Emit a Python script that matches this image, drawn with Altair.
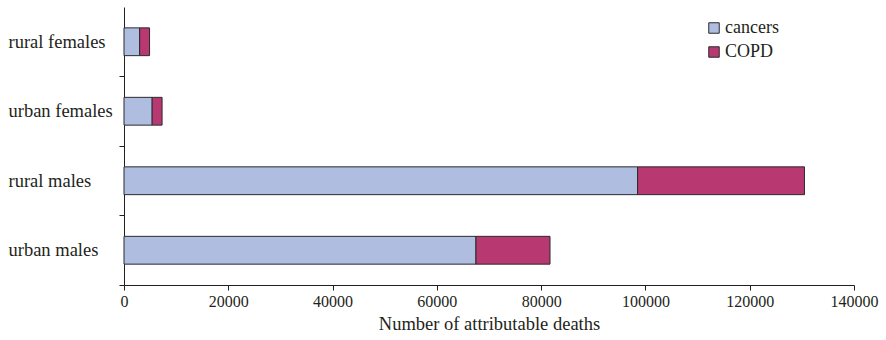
import altair as alt
import pandas as pd

# Attributable deaths by population group and cause
groups = ["rural females", "urban females", "rural males", "urban males"]
causes = ["cancers", "COPD"]
cancers = [3000, 5400, 98500, 67500]
copd = [1900, 1900, 32000, 14200]

rows = []
for g, c, p in zip(groups, cancers, copd):
    rows.append({"group": g, "cause": "cancers", "deaths": c, "rank": 0})
    rows.append({"group": g, "cause": "COPD", "deaths": p, "rank": 1})
df = pd.DataFrame(rows)

FONT = "Liberation Serif"
INK = "#231f20"

chart = alt.Chart(df).mark_bar(
    stroke="#2b2b2b", strokeWidth=1
).encode(
    x=alt.X(
        "deaths:Q",
        stack="zero",
        scale=alt.Scale(domain=[0, 140000], nice=False),
        axis=alt.Axis(
            title="Number of attributable deaths",
            values=[0, 20000, 40000, 60000, 80000, 100000, 120000, 140000],
            format="d",
            grid=False,
            tickSize=5,
            labelPadding=3,
            labelFontSize=16,
            titleFontSize=18.5,
            titleFontWeight="normal",
            titlePadding=5,
            labelFlush=False,
            labelOverlap=False,
        ),
    ),
    y=alt.Y(
        "group:N",
        sort=groups,
        scale=alt.Scale(paddingInner=0.6, paddingOuter=0.3),
        axis=alt.Axis(
            title=None,
            # ticks sit on the boundaries between category slots
            bandPosition=1.75,
            tickExtra=False,
            tickSize=5,
            labelAlign="left",
            labelPadding=111,
            labelFontSize=18.5,
            grid=False,
        ),
    ),
    fill=alt.Fill(
        "cause:N",
        scale=alt.Scale(domain=causes, range=["#aebde0", "#b83872"]),
        legend=alt.Legend(
            title=None,
            orient="none",
            legendX=581,
            legendY=12,
            symbolType="square",
            symbolSize=110,
            symbolStrokeColor="#2b2b2b",
            symbolStrokeWidth=1,
            symbolOpacity=1,
            labelFontSize=18,
            labelOffset=2,
            rowPadding=6,
        ),
    ),
    order=alt.Order("rank:Q"),
).properties(
    width=730,
    height=278,
    autosize=alt.AutoSizeParams(type="none"),
    padding={"left": 124, "top": 7, "right": 32, "bottom": 55},
).configure(
    font=FONT,
    background="white",
).configure_axis(
    domainColor=INK,
    tickColor=INK,
    labelColor=INK,
    titleColor=INK,
    labelFont=FONT,
    titleFont=FONT,
).configure_legend(
    labelFont=FONT,
    labelColor=INK,
).configure_view(
    stroke=None,
)

chart.save("out.html", embed_options={"renderer": "svg", "actions": False})
